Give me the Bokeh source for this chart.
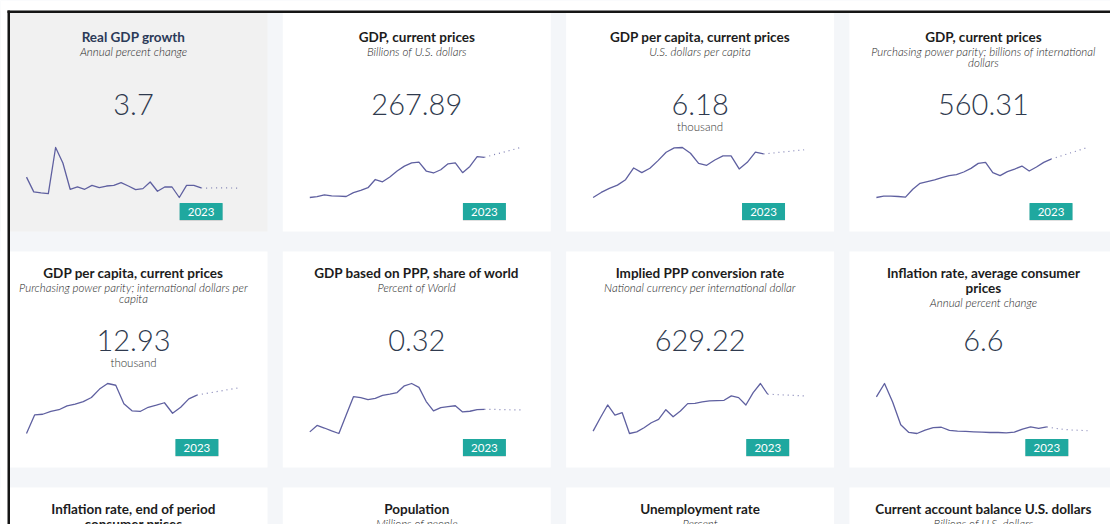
from bokeh.plotting import figure
from bokeh.models import Range1d
from bokeh.embed import file_html
from bokeh.resources import INLINE
from bokeh.core.properties import value

# ---------------- data ----------------
years_1999 = list(range(1999, 2024))
years_2002 = list(range(2002, 2024))
proj_years = list(range(2023, 2029))

card_titles = [
    "Real GDP growth",
    "GDP, current prices",
    "GDP per capita, current prices",
    "GDP, current prices",
    "GDP per capita, current prices",
    "GDP based on PPP, share of world",
    "Implied PPP conversion rate",
    "Inflation rate, average consumer\nprices",
    "Inflation rate, end of period\nconsumer prices",
    "Population",
    "Unemployment rate",
    "Current account balance U.S. dollars",
]
card_subtitles = [
    "Annual percent change",
    "Billions of U.S. dollars",
    "U.S. dollars per capita",
    "Purchasing power parity; billions of international\ndollars",
    "Purchasing power parity; international dollars per\ncapita",
    "Percent of World",
    "National currency per international dollar",
    "Annual percent change",
    "Annual percent change",
    "Millions of people",
    "Percent",
    "Billions of U.S. dollars",
]
headline_values = ["3.7", "267.89", "6.18", "560.31", "12.93", "0.32", "629.22", "6.6"]
headline_units = ["", "", "thousand", "", "thousand", "", "", ""]

real_gdp_growth = [17.0, -1.1, -2.4, -3.2, 53.4, 34.4, 2.1, 4.9, 2.1, 6.9, 4.1, 6.1, 6.9,
                   10.2, 6.1, 1.7, 2.9, 11.0, -0.3, 4.9, 4.9, -8.0, 6.9, 6.9, 3.7]
real_gdp_growth_proj = [3.7, 3.6, 3.8, 3.7, 3.7, 3.6]

gdp_usd = [30.0, 35.8, 45.5, 39.7, 37.8, 35.8, 59.0, 72.6, 88.0, 136.4, 122.8, 151.8, 186.7,
           215.7, 235.0, 238.9, 186.7, 175.1, 194.4, 229.2, 235.0, 177.0, 213.7, 271.8, 267.89]
gdp_usd_proj = [267.89, 279.5, 291.1, 302.7, 314.3, 325.9]

gdp_pc_usd = [1.00, 1.60, 2.08, 2.47, 3.11, 4.51, 3.95, 4.47, 5.38, 6.38, 6.90, 6.94, 6.26,
              5.06, 4.83, 5.46, 5.94, 5.94, 4.39, 5.18, 6.38, 6.18]
gdp_pc_usd_proj = [6.18, 6.26, 6.38, 6.46, 6.58, 6.66]

gdp_ppp = [120.0, 135.2, 135.2, 131.4, 123.8, 214.9, 283.2, 302.2, 321.2, 347.7, 370.5, 381.9,
           412.3, 454.0, 511.0, 522.3, 404.7, 370.5, 416.1, 446.4, 480.6, 423.7, 469.2, 522.3, 560.31]
gdp_ppp_proj = [560.31, 586.9, 613.5, 640.0, 666.6, 693.2]

gdp_pc_ppp = [3.50, 8.05, 8.22, 8.90, 9.33, 10.27, 10.70, 11.30, 12.33, 14.39, 15.76, 15.33,
              10.79, 9.07, 8.90, 9.93, 10.44, 11.04, 8.47, 9.93, 11.99, 12.93]
gdp_pc_ppp_proj = [12.93, 13.27, 13.62, 13.96, 14.30, 14.64]

ppp_share = [0.250, 0.270, 0.262, 0.253, 0.245, 0.302, 0.359, 0.356, 0.350, 0.354, 0.363, 0.367,
             0.372, 0.393, 0.400, 0.388, 0.344, 0.315, 0.325, 0.328, 0.331, 0.312, 0.314, 0.319, 0.320]
ppp_share_proj = [0.320, 0.320, 0.319, 0.319, 0.318, 0.318]

ppp_rate = [319.7, 432.2, 539.2, 454.8, 474.5, 300.0, 314.0, 347.8, 390.0, 418.2, 499.8, 440.7,
            488.5, 550.4, 553.2, 564.5, 572.9, 575.8, 578.6, 615.1, 601.1, 539.2, 643.3, 719.3, 629.22]
ppp_rate_proj = [629.22, 626.4, 623.6, 620.8, 617.9, 615.1]

inflation_avg = [38.9, 53.2, 33.3, 8.9, 0.6, -0.5, 3.2, 5.8, 6.2, 2.8, 2.1, 1.7, 1.3, 0.96,
                 0.6, 0.6, 0.2, 1.0, 4.3, 6.6, 5.1, 6.6]
inflation_avg_proj = [6.6, 5.1, 4.0, 3.3, 2.9, 2.5]

series_years = [years_1999, years_1999, years_2002, years_1999,
                years_2002, years_1999, years_1999, years_2002]
series_values = [real_gdp_growth, gdp_usd, gdp_pc_usd, gdp_ppp,
                 gdp_pc_ppp, ppp_share, ppp_rate, inflation_avg]
series_proj = [real_gdp_growth_proj, gdp_usd_proj, gdp_pc_usd_proj, gdp_ppp_proj,
               gdp_pc_ppp_proj, ppp_share_proj, ppp_rate_proj, inflation_avg_proj]

# ---------------- style / layout ----------------
W, H = 1110, 524
X0, Y0 = 0, 0
GAP = "#f4f6f9"
CARD = "#ffffff"
CARD_SEL = "#f1f1f1"
LINE = "#5f60a0"
TEAL = "#1fa89f"
FONT = "Lato"
LIGHT_FONT = "Lato Light"
col_centers = [133, 416.3, 699.6, 982.9]
row_tops = [15, 251, 487]
CARD_W, CARD_H = 268, 216

p = figure(width=W, height=H, x_range=Range1d(X0, X0 + W), y_range=Range1d(Y0 + H, Y0),
           output_backend="svg", toolbar_location=None, min_border=0,
           x_axis_location=None, y_axis_location=None)
p.grid.visible = False
p.outline_line_color = None
p.background_fill_color = GAP
p.border_fill_color = GAP

# cards (first row runs up under the window edge)
lefts, rights, tops, bottoms, fills = [], [], [], [], []
for r, t in enumerate(row_tops):
    for c, cx in enumerate(col_centers):
        lefts.append(cx - CARD_W / 2)
        rights.append(cx + CARD_W / 2)
        tops.append(10 if r == 0 else t)
        bottoms.append(t + CARD_H)
        fills.append(CARD_SEL if (r == 0 and c == 0) else CARD)
p.quad(left=lefts, right=rights, top=tops, bottom=bottoms, fill_color=fills, line_color=None)

# window frame (white margin + dark edge)
p.quad(left=[0, 0], right=[W, 7], top=[0, 0], bottom=[10, H], fill_color="white", line_color=None)
p.quad(left=[7, 7], right=[W, 9.5], top=[10, 10], bottom=[12.5, H], fill_color="#151515",
       line_color=None)

def txt(x, y, s, size, color, style="normal", font=FONT):
    p.text(x=[x], y=[y], text=[s], text_align="center", text_baseline="middle",
           text_font=value(font), text_font_size=f"{size}px", text_font_style=style,
           text_color=color)

for i, (title, sub) in enumerate(zip(card_titles, card_subtitles)):
    r, c = divmod(i, 4)
    cx, t = col_centers[c], row_tops[r]
    y = t + 21
    tcolor = "#2b3a58" if i == 0 else "#1c1c1c"
    tlines = title.split("\n")
    for j, line in enumerate(tlines):
        txt(cx, y, line, 13.5, tcolor, "bold")
        if j < len(tlines) - 1:
            y += 15
    y += 15
    for line in sub.split("\n"):
        txt(cx, y, line, 11.5, "#262626", "italic", font=LIGHT_FONT)
        y += 11

    if i >= len(headline_values):
        continue
    txt(cx, t + 89, headline_values[i], 29, "#2f3a4e", font=LIGHT_FONT)
    if headline_units[i]:
        txt(cx, t + 111, headline_units[i], 11.5, "#333333", font=LIGHT_FONT)

    # sparkline through its own ranges
    yrs, vals, pv = series_years[i], series_values[i], series_proj[i]
    L, R = cx - 107, cx + 104
    s = (R - L) / (proj_years[-1] - yrs[0])
    xs = yrs[0] - (L - X0) / s
    allv = vals + pv
    vmin, vmax = min(allv), max(allv)
    T, B = t + 132, t + 182
    sy = (B - T) / (vmax - vmin)
    p.extra_x_ranges[f"x{i}"] = Range1d(xs, xs + W / s)
    p.extra_y_ranges[f"y{i}"] = Range1d(vmin - (Y0 + H - B) / sy, vmax + (T - Y0) / sy)
    p.line(yrs, vals, x_range_name=f"x{i}", y_range_name=f"y{i}",
           line_color=LINE, line_width=1.3, line_join="round")
    p.line(proj_years, pv, x_range_name=f"x{i}", y_range_name=f"y{i}",
           line_color=LINE, line_width=1.2, line_dash="1 4", line_alpha=0.8)
    p.rect(x=[yrs[-1]], y=[t + 197], width=43, height=17, width_units="screen",
           height_units="screen", x_range_name=f"x{i}", fill_color="#000000",
           fill_alpha=0.12, line_color=None)
    p.rect(x=[yrs[-1]], y=[t + 196], width=43, height=17, width_units="screen",
           height_units="screen", x_range_name=f"x{i}", fill_color=TEAL, line_color=None)
    p.text(x=[yrs[-1]], y=[t + 196.5], text=[str(yrs[-1])], x_range_name=f"x{i}",
           text_align="center", text_baseline="middle", text_font=value(FONT),
           text_font_size="11.5px", text_color="white")

open("out.html", "w").write(file_html(p, INLINE))
